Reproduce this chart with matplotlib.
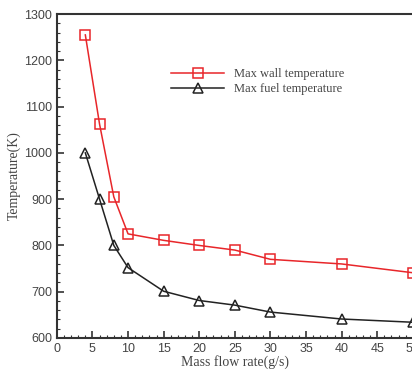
import matplotlib.pyplot as plt
from matplotlib.ticker import MultipleLocator

# mass flow rate (g/s)
flow = [4, 6, 8, 10, 15, 20, 25, 30, 40, 50]
wall_temp = [1255, 1062, 905, 825, 811, 800, 790, 770, 760, 741]
fuel_temp = [1000, 900, 800, 752, 701, 681, 671, 656, 641, 634]

fig = plt.figure(figsize=(4.12, 3.71), dpi=100)
ax = fig.add_axes([0.138, 0.089, 0.864, 0.873])

ax.plot(flow, wall_temp, color='#e8262a', lw=1.1, marker='s', ms=6.5,
        mfc='none', mec='#e8262a', mew=1.1, label='Max wall temperature')
ax.plot(flow, fuel_temp, color='#222222', lw=1.1, marker='^', ms=6.5,
        mfc='none', mec='#222222', mew=1.1, label='Max fuel temperature')

ax.set_xlim(0, 50)
ax.set_ylim(600, 1300)
ax.xaxis.set_major_locator(MultipleLocator(5))
ax.xaxis.set_minor_locator(MultipleLocator(1))
ax.yaxis.set_major_locator(MultipleLocator(100))
ax.yaxis.set_minor_locator(MultipleLocator(20))
ax.tick_params(which='both', direction='in', colors='#333333', labelcolor='#444444')
ax.tick_params(which='major', length=5, width=1.2)
ax.tick_params(which='minor', length=2.5, width=0.8)
for lab in ax.get_xticklabels() + ax.get_yticklabels():
    lab.set_family('Liberation Sans')
    lab.set_fontsize(9)
for s in ax.spines.values():
    s.set_linewidth(1.5)
    s.set_color('#333333')
# right edge of the frame is cropped off in the original
ax.spines['right'].set_visible(False)

ax.set_xlabel('Mass flow rate(g/s)', family='Liberation Serif', fontsize=10,
              color='#444444', labelpad=0)
ax.set_ylabel('Temperature(K)', family='Liberation Serif', fontsize=10,
              color='#444444', labelpad=2)

ax.legend(loc='upper left', bbox_to_anchor=(0.29, 0.867), frameon=False,
          handlelength=4.2, handletextpad=0.8, labelspacing=0.2,
          prop={'family': 'Liberation Serif', 'size': 9}, labelcolor='#444444')

plt.savefig('out.png', dpi=100)
